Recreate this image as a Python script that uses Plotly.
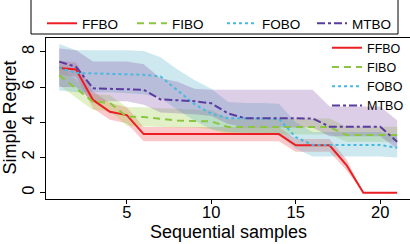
import plotly.graph_objects as go

# ---- data ----
samples = list(range(1, 22))
x_ticks = [5, 10, 15, 20]
y_ticks = [0, 2, 4, 6, 8]
names = ["FFBO", "FIBO", "FOBO", "MTBO"]

ffbo_mean = [7.08, 7.0, 5.27, 4.6, 4.41, 3.33, 3.33, 3.33, 3.33, 3.33, 3.33, 3.33, 3.33, 3.33, 2.69, 2.69, 2.69, 1.57, 0, 0, 0]
ffbo_lo = [6.7, 6.6, 4.8, 4.15, 3.95, 2.92, 2.92, 2.92, 2.92, 2.92, 2.92, 2.92, 2.92, 2.92, 2.32, 2.32, 2.32, 1.27, 0, 0, 0]
ffbo_hi = [7.5, 7.4, 5.75, 5.1, 4.85, 3.73, 3.73, 3.73, 3.73, 3.73, 3.73, 3.73, 3.73, 3.73, 3.05, 3.05, 3.05, 1.9, 0, 0, 0]

fibo_mean = [6.67, 5.9, 5.17, 5.1, 4.32, 4.3, 4.2, 4.1, 4.07, 4.05, 3.73, 3.73, 3.73, 3.73, 3.73, 3.73, 3.73, 3.28, 3.28, 3.28, 3.28]
fibo_lo = [6.1, 5.4, 4.7, 4.65, 3.8, 3.75, 3.72, 3.7, 3.7, 3.6, 3.3, 3.3, 3.3, 3.3, 3.3, 3.3, 3.3, 2.9, 2.9, 2.9, 2.9]
fibo_hi = [7.3, 6.4, 5.6, 5.55, 4.85, 4.85, 4.8, 4.75, 4.72, 4.7, 4.22, 4.22, 4.22, 4.22, 4.22, 4.22, 4.22, 3.75, 3.75, 3.75, 3.75]

fobo_mean = [7.1, 6.8, 6.78, 6.75, 6.72, 6.7, 6.6, 5.79, 5.03, 4.49, 4.23, 4.23, 4.23, 4.2, 3.15, 2.71, 2.71, 2.71, 2.71, 2.71, 2.55]
fobo_lo = [5.8, 5.7, 5.7, 5.7, 5.65, 5.6, 5.4, 4.7, 4.1, 3.6, 3.45, 3.4, 3.4, 3.3, 2.5, 2.05, 2.05, 2.05, 2.05, 2.05, 2.0]
fobo_hi = [8.45, 8.1, 8.1, 8.1, 8.1, 8.05, 7.7, 7.0, 6.4, 5.9, 5.15, 5.1, 5.1, 5.05, 4.0, 3.45, 3.45, 3.45, 3.45, 3.45, 3.2]

mtbo_mean = [7.45, 7.15, 5.93, 5.9, 5.88, 5.85, 5.3, 5.27, 5.2, 5.08, 4.5, 4.23, 4.22, 4.22, 4.22, 4.22, 3.75, 3.75, 3.75, 3.75, 2.9]
mtbo_lo = [6.0, 6.0, 5.2, 5.2, 5.2, 5.0, 4.55, 4.5, 4.45, 4.35, 3.9, 3.7, 3.7, 3.7, 3.7, 3.7, 3.2, 3.2, 3.2, 3.2, 2.5]
mtbo_hi = [8.2, 8.1, 7.45, 7.45, 7.45, 7.3, 6.5, 6.3, 5.9, 5.85, 5.85, 5.85, 5.85, 5.85, 5.85, 5.85, 4.9, 4.9, 4.9, 4.9, 4.1]

# ---- styles ----
line_colors = ["rgb(235,30,35)", "rgb(140,198,63)", "rgb(70,185,225)", "rgb(90,60,160)"]
band_colors = ["rgba(240,60,60,0.28)", "rgba(160,205,70,0.3)", "rgba(90,180,200,0.3)", "rgba(130,80,170,0.28)"]
dashes = ["solid", "7px,5px", "3px,3px", "8px,3px,3px,3px"]

means = [ffbo_mean, fibo_mean, fobo_mean, mtbo_mean]
los = [ffbo_lo, fibo_lo, fobo_lo, mtbo_lo]
his = [ffbo_hi, fibo_hi, fobo_hi, mtbo_hi]

fig = go.Figure()

for lo, hi, bc in zip(los, his, band_colors):
    fig.add_trace(go.Scatter(
        x=samples + samples[::-1], y=hi + lo[::-1],
        fill="toself", fillcolor=bc, mode="lines", line=dict(width=0),
        showlegend=False, hoverinfo="skip"))

for name, m, lc, d in zip(names, means, line_colors, dashes):
    fig.add_trace(go.Scatter(
        x=samples, y=m, mode="lines", name=name,
        line=dict(color=lc, width=2, dash=d), legend="legend"))

for name, lc, d in zip(names, line_colors, dashes):
    fig.add_trace(go.Scatter(
        x=[None], y=[None], mode="lines", name=name,
        line=dict(color=lc, width=2, dash=d), legend="legend2"))

L, T, W, H = 46, 38, 364, 161

def px_x(p):
    return (p - L) / W

def px_y(p):
    return (T + H - p) / H

fig.update_layout(
    width=410, height=244,
    margin=dict(l=L, r=0, t=T, b=244 - T - H, autoexpand=False),
    plot_bgcolor="white", paper_bgcolor="white",
    font=dict(family="Liberation Sans, Arial, sans-serif", color="black"),
    xaxis=dict(range=[0.219, 21.76], tickvals=x_ticks, ticks="outside", ticklen=4,
               tickcolor="black", showline=True, linecolor="black", linewidth=1,
               mirror=True, showgrid=False, zeroline=False, tickfont=dict(size=16.5),
               ticklabelstandoff=-6),
    yaxis=dict(range=[-0.36, 8.79], tickvals=y_ticks, ticks="outside", ticklen=5,
               tickcolor="black", tickangle=-90, showline=True, linecolor="black",
               linewidth=1, showgrid=False, zeroline=False, tickfont=dict(size=16.5),
               ticklabelstandoff=-1),
    legend=dict(x=px_x(327), xanchor="left", y=px_y(76.7), yanchor="middle",
                font=dict(size=12.5), bgcolor="rgba(0,0,0,0)", borderwidth=0),
    legend2=dict(orientation="h", x=px_x(42), xanchor="left", y=px_y(8), yanchor="top",
                 font=dict(size=13.5), bgcolor="rgba(0,0,0,0)", borderwidth=0,
                 entrywidth=45, entrywidthmode="pixels"),
    shapes=[dict(type="rect", xref="paper", yref="paper",
                 x0=px_x(31), x1=px_x(398), y0=px_y(34), y1=px_y(-20),
                 line=dict(color="black", width=1), fillcolor="rgba(0,0,0,0)")],
    annotations=[
        dict(text="Simple Regret", xref="paper", yref="paper", x=px_x(9), y=px_y(117.5),
             xanchor="center", yanchor="middle", textangle=-90, showarrow=False,
             font=dict(size=18)),
        dict(text="Sequential samples", xref="paper", yref="paper", x=px_x(228), y=px_y(232),
             xanchor="center", yanchor="middle", showarrow=False, font=dict(size=18)),
    ],
)

fig.write_html("out.html", config={"displayModeBar": False},
               post_script="document.body.style.margin='0';")
